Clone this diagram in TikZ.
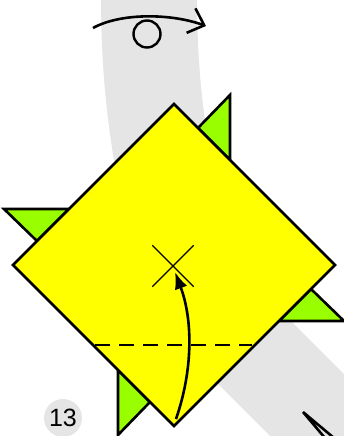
\documentclass[tikz,border=0pt]{standalone}
\usepackage{fontspec}
\setmainfont{Liberation Sans}
\usetikzlibrary{arrows.meta,shapes.misc}
\definecolor{bandgray}{HTML}{E5E5E5}
\definecolor{sheetyellow}{HTML}{FFFF00}
\definecolor{flapgreen}{HTML}{99FF00}

\begin{document}
\begin{tikzpicture}[
  x=1pt, y=-1pt,
  band/.style={draw=bandgray, line width=96pt},
  flap/.style={draw, fill=flapgreen, line width=2.6pt, line join=miter},
  sheet/.style={draw, fill=sheetyellow, line width=2.6pt, line join=miter},
  fold/.style={line width=2.6pt, dash pattern=on 15pt off 9pt},
  move/.style={line width=2.6pt, -{Latex[length=17pt,width=13pt]}},
  turn/.style={line width=2.6pt, -{Straight Barb[length=14pt,width=26pt]}}
]
\useasboundingbox (0,0) rectangle (344,436);
\clip (0,0) rectangle (344,436);
% background band
\draw[band] (149,-60) -- (149,0) .. controls (149,148) and (182,280) .. (232,330) -- (400,498);
% flaps and sheet
\coordinate (ctr) at (174,265);
\foreach \ang in {0,90,180,270}
  \draw[flap, rotate around={\ang:(ctr)}] (230,95) -- (230,160) -- (198,128) -- cycle;
\draw[sheet] (174,104) -- (335,265) -- (174,426) -- (13,265) -- cycle;
\draw[fold] (95,345) -- (252,345);
% fold arrow to the mark
\node[cross out, draw, line width=1.3pt, minimum size=40pt, inner sep=0pt] (target) at (173,266) {};
\coordinate (tip) at (175,272);
\coordinate (lift) at (176,419);
\draw[move] (lift) .. controls (193,370) and (193,320) .. (tip);
% turn over symbol
\node[draw, circle, line width=2.4pt, minimum size=27pt, inner sep=0pt] (flip) at (147,34) {};
\coordinate (turnL) at (93,28);
\coordinate (turnR) at (206,26);
\draw[turn] (turnL) .. controls (120,13) and (170,13) .. (turnR);
% step number
\node[circle, fill=bandgray, minimum size=38pt, inner sep=0pt, font=\fontsize{25}{25}\selectfont] (stepno) at (63,418) {13};
% next arrow, cut off
\coordinate (next) at (303,412);
\draw[line width=2.6pt] (next) -- (325,438) (next) -- (334,438);
\end{tikzpicture}
\end{document}
